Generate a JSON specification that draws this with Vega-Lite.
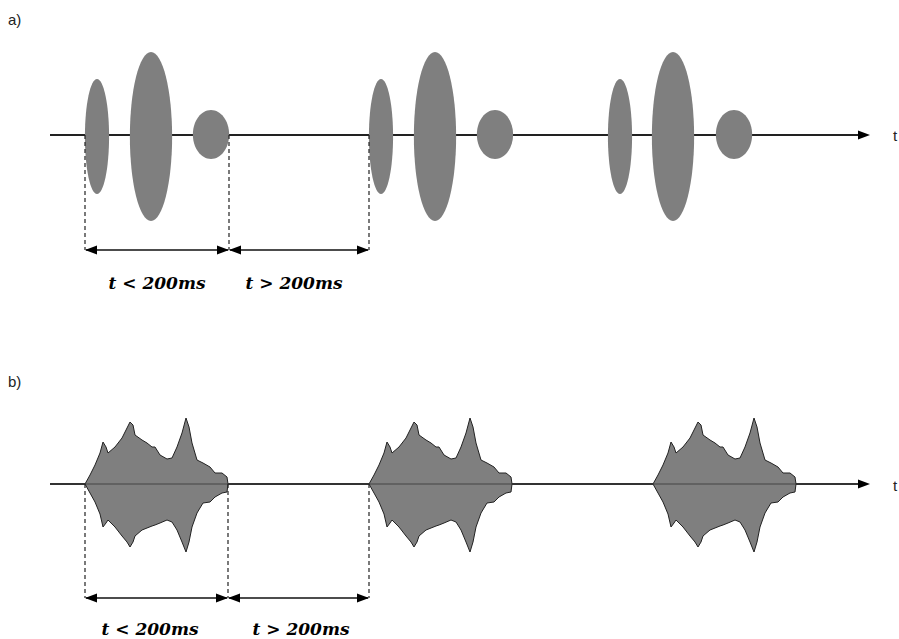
{
  "$schema": "https://vega.github.io/schema/vega-lite/v6.json",
  "width": 899,
  "height": 639,
  "autosize": {"type": "fit", "contains": "padding"},
  "padding": 0,
  "background": "#ffffff",
  "config": {"view": {"stroke": null}},
  "resolve": {"scale": {"shape": "independent", "size": "independent"}},
  "datasets": {
    "baselines": [
      {"panel": "a", "t": 50, "t2": 862, "y": 135},
      {"panel": "b", "t": 50, "t2": 862, "y": 484}
    ],
    "ellipses": [
      {"group": 1, "t": 97, "y": 136.5, "amp": 57.5, "kind": "narrow"},
      {"group": 1, "t": 151, "y": 136.5, "amp": 84.5, "kind": "wide"},
      {"group": 1, "t": 211, "y": 134.5, "amp": 24.5, "kind": "round"},
      {"group": 2, "t": 381, "y": 136.5, "amp": 57.5, "kind": "narrow"},
      {"group": 2, "t": 435, "y": 136.5, "amp": 84.5, "kind": "wide"},
      {"group": 2, "t": 495, "y": 134.5, "amp": 24.5, "kind": "round"},
      {"group": 3, "t": 620, "y": 136.5, "amp": 57.5, "kind": "narrow"},
      {"group": 3, "t": 673, "y": 136.5, "amp": 84.5, "kind": "wide"},
      {"group": 3, "t": 734, "y": 134.5, "amp": 24.5, "kind": "round"}
    ],
    "blobs": [
      {"blob": 1, "t": 85, "top": 484, "bot": 484},
      {"blob": 1, "t": 90, "top": 475, "bot": 493},
      {"blob": 1, "t": 95, "top": 465, "bot": 502},
      {"blob": 1, "t": 100, "top": 453, "bot": 514},
      {"blob": 1, "t": 103, "top": 442, "bot": 527},
      {"blob": 1, "t": 106, "top": 447, "bot": 523},
      {"blob": 1, "t": 108, "top": 453, "bot": 520},
      {"blob": 1, "t": 115, "top": 447, "bot": 527},
      {"blob": 1, "t": 122, "top": 438, "bot": 536},
      {"blob": 1, "t": 127, "top": 428, "bot": 542},
      {"blob": 1, "t": 130, "top": 422, "bot": 547},
      {"blob": 1, "t": 133, "top": 425, "bot": 542},
      {"blob": 1, "t": 135, "top": 435, "bot": 536},
      {"blob": 1, "t": 142, "top": 440, "bot": 530},
      {"blob": 1, "t": 147, "top": 443, "bot": 528},
      {"blob": 1, "t": 152, "top": 447, "bot": 526},
      {"blob": 1, "t": 155, "top": 447, "bot": 525},
      {"blob": 1, "t": 160, "top": 455, "bot": 523},
      {"blob": 1, "t": 167, "top": 459, "bot": 520},
      {"blob": 1, "t": 172, "top": 458, "bot": 522},
      {"blob": 1, "t": 177, "top": 447, "bot": 530},
      {"blob": 1, "t": 182, "top": 433, "bot": 542},
      {"blob": 1, "t": 186, "top": 418, "bot": 552},
      {"blob": 1, "t": 189, "top": 427, "bot": 542},
      {"blob": 1, "t": 192, "top": 443, "bot": 527},
      {"blob": 1, "t": 197, "top": 460, "bot": 513},
      {"blob": 1, "t": 203, "top": 463, "bot": 503},
      {"blob": 1, "t": 210, "top": 467, "bot": 502},
      {"blob": 1, "t": 215, "top": 473, "bot": 497},
      {"blob": 1, "t": 222, "top": 473, "bot": 493},
      {"blob": 1, "t": 227, "top": 477, "bot": 492},
      {"blob": 1, "t": 228, "top": 484, "bot": 484},
      {"blob": 2, "t": 369, "top": 484, "bot": 484},
      {"blob": 2, "t": 374, "top": 475, "bot": 493},
      {"blob": 2, "t": 379, "top": 465, "bot": 502},
      {"blob": 2, "t": 384, "top": 453, "bot": 514},
      {"blob": 2, "t": 387, "top": 442, "bot": 527},
      {"blob": 2, "t": 390, "top": 447, "bot": 523},
      {"blob": 2, "t": 392, "top": 453, "bot": 520},
      {"blob": 2, "t": 399, "top": 447, "bot": 527},
      {"blob": 2, "t": 406, "top": 438, "bot": 536},
      {"blob": 2, "t": 411, "top": 428, "bot": 542},
      {"blob": 2, "t": 414, "top": 422, "bot": 547},
      {"blob": 2, "t": 417, "top": 425, "bot": 542},
      {"blob": 2, "t": 419, "top": 435, "bot": 536},
      {"blob": 2, "t": 426, "top": 440, "bot": 530},
      {"blob": 2, "t": 431, "top": 443, "bot": 528},
      {"blob": 2, "t": 436, "top": 447, "bot": 526},
      {"blob": 2, "t": 439, "top": 447, "bot": 525},
      {"blob": 2, "t": 444, "top": 455, "bot": 523},
      {"blob": 2, "t": 451, "top": 459, "bot": 520},
      {"blob": 2, "t": 456, "top": 458, "bot": 522},
      {"blob": 2, "t": 461, "top": 447, "bot": 530},
      {"blob": 2, "t": 466, "top": 433, "bot": 542},
      {"blob": 2, "t": 470, "top": 418, "bot": 552},
      {"blob": 2, "t": 473, "top": 427, "bot": 542},
      {"blob": 2, "t": 476, "top": 443, "bot": 527},
      {"blob": 2, "t": 481, "top": 460, "bot": 513},
      {"blob": 2, "t": 487, "top": 463, "bot": 503},
      {"blob": 2, "t": 494, "top": 467, "bot": 502},
      {"blob": 2, "t": 499, "top": 473, "bot": 497},
      {"blob": 2, "t": 506, "top": 473, "bot": 493},
      {"blob": 2, "t": 511, "top": 477, "bot": 492},
      {"blob": 2, "t": 512, "top": 484, "bot": 484},
      {"blob": 3, "t": 653, "top": 484, "bot": 484},
      {"blob": 3, "t": 658, "top": 475, "bot": 493},
      {"blob": 3, "t": 663, "top": 465, "bot": 502},
      {"blob": 3, "t": 668, "top": 453, "bot": 514},
      {"blob": 3, "t": 671, "top": 442, "bot": 527},
      {"blob": 3, "t": 674, "top": 447, "bot": 523},
      {"blob": 3, "t": 676, "top": 453, "bot": 520},
      {"blob": 3, "t": 683, "top": 447, "bot": 527},
      {"blob": 3, "t": 690, "top": 438, "bot": 536},
      {"blob": 3, "t": 695, "top": 428, "bot": 542},
      {"blob": 3, "t": 698, "top": 422, "bot": 547},
      {"blob": 3, "t": 701, "top": 425, "bot": 542},
      {"blob": 3, "t": 703, "top": 435, "bot": 536},
      {"blob": 3, "t": 710, "top": 440, "bot": 530},
      {"blob": 3, "t": 715, "top": 443, "bot": 528},
      {"blob": 3, "t": 720, "top": 447, "bot": 526},
      {"blob": 3, "t": 723, "top": 447, "bot": 525},
      {"blob": 3, "t": 728, "top": 455, "bot": 523},
      {"blob": 3, "t": 735, "top": 459, "bot": 520},
      {"blob": 3, "t": 740, "top": 458, "bot": 522},
      {"blob": 3, "t": 745, "top": 447, "bot": 530},
      {"blob": 3, "t": 750, "top": 433, "bot": 542},
      {"blob": 3, "t": 754, "top": 418, "bot": 552},
      {"blob": 3, "t": 757, "top": 427, "bot": 542},
      {"blob": 3, "t": 760, "top": 443, "bot": 527},
      {"blob": 3, "t": 765, "top": 460, "bot": 513},
      {"blob": 3, "t": 771, "top": 463, "bot": 503},
      {"blob": 3, "t": 778, "top": 467, "bot": 502},
      {"blob": 3, "t": 783, "top": 473, "bot": 497},
      {"blob": 3, "t": 790, "top": 473, "bot": 493},
      {"blob": 3, "t": 795, "top": 477, "bot": 492},
      {"blob": 3, "t": 796, "top": 484, "bot": 484}
    ],
    "dashes": [
      {"t": 85, "y": 135, "y2": 250},
      {"t": 229, "y": 135, "y2": 250},
      {"t": 369, "y": 135, "y2": 250},
      {"t": 85, "y": 484, "y2": 598},
      {"t": 228, "y": 484, "y2": 598},
      {"t": 369, "y": 484, "y2": 598}
    ],
    "spans": [
      {"t": 86, "t2": 228, "y": 250},
      {"t": 230, "t2": 368, "y": 250},
      {"t": 86, "t2": 227, "y": 598},
      {"t": 229, "t2": 368, "y": 598}
    ],
    "heads": [
      {"t": 870, "y": 135, "dir": "right"},
      {"t": 870, "y": 484, "dir": "right"},
      {"t": 85, "y": 250, "dir": "left"},
      {"t": 229, "y": 250, "dir": "right"},
      {"t": 229, "y": 250, "dir": "left"},
      {"t": 369, "y": 250, "dir": "right"},
      {"t": 85, "y": 598, "dir": "left"},
      {"t": 228, "y": 598, "dir": "right"},
      {"t": 228, "y": 598, "dir": "left"},
      {"t": 369, "y": 598, "dir": "right"}
    ],
    "panelLabels": [
      {"t": 8, "y": 20, "label": "a)"},
      {"t": 8, "y": 382, "label": "b)"},
      {"t": 893, "y": 136, "label": "t"},
      {"t": 893, "y": 486, "label": "t"}
    ],
    "durations": [
      {"t": 157, "y": 284, "label": "t < 200ms"},
      {"t": 294, "y": 284, "label": "t > 200ms"},
      {"t": 150, "y": 630, "label": "t < 200ms"},
      {"t": 301, "y": 630, "label": "t > 200ms"}
    ]
  },
  "layer": [
    {
      "data": {"name": "baselines"},
      "mark": {"type": "rule", "color": "#222222", "strokeWidth": 2},
      "encoding": {
        "x": {"field": "t", "type": "quantitative", "scale": {"domain": [0, 899], "nice": false, "zero": false}, "axis": null},
        "x2": {"field": "t2"},
        "y": {"field": "y", "type": "quantitative", "scale": {"domain": [0, 639], "reverse": true, "nice": false, "zero": false}, "axis": null}
      }
    },
    {
      "data": {"name": "ellipses"},
      "mark": {"type": "point", "filled": true, "opacity": 1, "color": "#7f7f7f", "strokeWidth": 0},
      "encoding": {
        "x": {"field": "t", "type": "quantitative"},
        "y": {"field": "y", "type": "quantitative"},
        "size": {"field": "amp", "type": "quantitative", "scale": {"type": "pow", "exponent": 2, "domain": [0, 100], "range": [0, 40000], "zero": true}, "legend": null},
        "shape": {"field": "kind", "type": "nominal", "legend": null, "scale": {"domain": ["narrow", "wide", "round"], "range": [
          "M0,-1C0.116,-1,0.21,-0.552,0.21,0C0.21,0.552,0.116,1,0,1C-0.116,1,-0.21,0.552,-0.21,0C-0.21,-0.552,-0.116,-1,0,-1Z",
          "M0,-1C0.138,-1,0.25,-0.552,0.25,0C0.25,0.552,0.138,1,0,1C-0.138,1,-0.25,0.552,-0.25,0C-0.25,-0.552,-0.138,-1,0,-1Z",
          "M0,-1C0.409,-1,0.74,-0.552,0.74,0C0.74,0.552,0.409,1,0,1C-0.409,1,-0.74,0.552,-0.74,0C-0.74,-0.552,-0.409,-1,0,-1Z"
        ]}}
      }
    },
    {
      "data": {"name": "blobs"},
      "mark": {"type": "area", "color": "#7f7f7f", "opacity": 1, "stroke": "#222222", "strokeWidth": 1, "interpolate": "linear"},
      "encoding": {
        "x": {"field": "t", "type": "quantitative"},
        "y": {"field": "top", "type": "quantitative"},
        "y2": {"field": "bot"},
        "detail": {"field": "blob", "type": "nominal"}
      }
    },
    {
      "data": {"name": "baselines"},
      "transform": [{"filter": "datum.panel === 'b'"}],
      "mark": {"type": "rule", "color": "#444444", "strokeWidth": 1},
      "encoding": {
        "x": {"field": "t", "type": "quantitative"},
        "x2": {"field": "t2"},
        "y": {"field": "y", "type": "quantitative"}
      }
    },
    {
      "data": {"name": "dashes"},
      "mark": {"type": "rule", "color": "#222222", "strokeWidth": 1.2, "strokeDash": [4, 3]},
      "encoding": {
        "x": {"field": "t", "type": "quantitative"},
        "y": {"field": "y", "type": "quantitative"},
        "y2": {"field": "y2"}
      }
    },
    {
      "data": {"name": "spans"},
      "mark": {"type": "rule", "color": "#111111", "strokeWidth": 1.6},
      "encoding": {
        "x": {"field": "t", "type": "quantitative"},
        "x2": {"field": "t2"},
        "y": {"field": "y", "type": "quantitative"}
      }
    },
    {
      "data": {"name": "heads"},
      "mark": {"type": "point", "filled": true, "opacity": 1, "color": "#000000", "size": 144, "strokeWidth": 0},
      "encoding": {
        "x": {"field": "t", "type": "quantitative"},
        "y": {"field": "y", "type": "quantitative"},
        "shape": {"field": "dir", "type": "nominal", "legend": null, "scale": {"domain": ["left", "right"], "range": ["M0,0L2,-0.75L2,0.75Z", "M0,0L-2,-0.75L-2,0.75Z"]}}
      }
    },
    {
      "data": {"name": "panelLabels"},
      "mark": {"type": "text", "font": "Liberation Sans", "fontSize": 15, "align": "left", "baseline": "middle", "color": "#222222"},
      "encoding": {
        "x": {"field": "t", "type": "quantitative"},
        "y": {"field": "y", "type": "quantitative"},
        "text": {"field": "label"}
      }
    },
    {
      "data": {"name": "durations"},
      "mark": {"type": "text", "font": "DejaVu Serif", "fontSize": 17, "fontStyle": "italic", "fontWeight": "bold", "align": "center", "baseline": "middle", "color": "#000000"},
      "encoding": {
        "x": {"field": "t", "type": "quantitative"},
        "y": {"field": "y", "type": "quantitative"},
        "text": {"field": "label"}
      }
    }
  ]
}
